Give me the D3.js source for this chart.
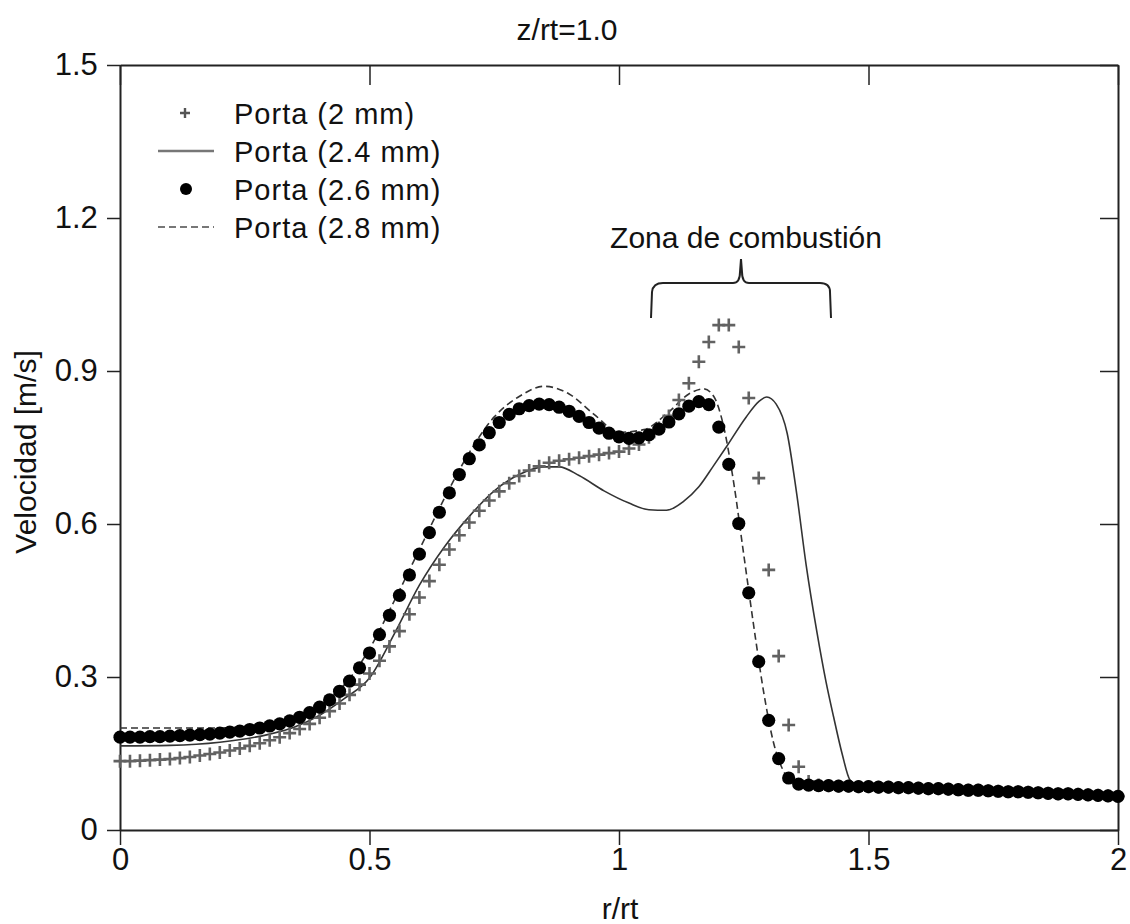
<!DOCTYPE html>
<html>
<head>
<meta charset="utf-8">
<script src="https://cdn.jsdelivr.net/npm/d3@7"></script>
<style>
  body { margin: 0; background: #fff; }
  text { font-family: "Liberation Sans", Arial, sans-serif; fill: #111; }
</style>
</head>
<body>
<svg id="chart" width="1130" height="924"></svg>
<script>
// radial positions shared by the marker series (step 0.02)
const rPos = d3.range(0, 101).map(i => +(i * 0.02).toFixed(2));

// Porta (2 mm) - crosses
const porta20 = [0.135, 0.135, 0.136, 0.137, 0.138, 0.139, 0.141, 0.143, 0.146, 0.149,
  0.152, 0.156, 0.160, 0.165, 0.170, 0.176, 0.182, 0.190, 0.198, 0.208,
  0.220, 0.233, 0.248, 0.265, 0.285, 0.307, 0.332, 0.360, 0.390, 0.423,
  0.456, 0.488, 0.520, 0.550, 0.578, 0.603, 0.626, 0.646, 0.664, 0.680,
  0.694, 0.705, 0.713, 0.720, 0.724, 0.727, 0.730, 0.733, 0.736, 0.739,
  0.742, 0.748, 0.756, 0.770, 0.788, 0.812, 0.843, 0.876, 0.918, 0.957,
  0.990, 0.990, 0.947, 0.847, 0.690, 0.510, 0.341, 0.206, 0.124, 0.095,
  0.088, 0.087, 0.086, 0.086, 0.085, 0.085, 0.084, 0.084, 0.083, 0.083,
  0.082, 0.081, 0.081, 0.080, 0.079, 0.078, 0.078, 0.077, 0.076, 0.075,
  0.075, 0.074, 0.073, 0.072, 0.071, 0.071, 0.070, 0.069, 0.068, 0.067, 0.066];

// Porta (2.6 mm) - filled dots
const porta26 = [0.182, 0.182, 0.182, 0.183, 0.183, 0.184, 0.185, 0.186, 0.187, 0.188,
  0.190, 0.192, 0.194, 0.197, 0.200, 0.204, 0.208, 0.214, 0.221, 0.230,
  0.241, 0.255, 0.272, 0.292, 0.318, 0.347, 0.383, 0.421, 0.460, 0.500,
  0.541, 0.583, 0.623, 0.661, 0.697, 0.728, 0.755, 0.779, 0.799, 0.815,
  0.826, 0.832, 0.835, 0.834, 0.829, 0.821, 0.811, 0.799, 0.788, 0.778,
  0.771, 0.768, 0.769, 0.775, 0.786, 0.800, 0.816, 0.831, 0.840, 0.834,
  0.790, 0.717, 0.601, 0.465, 0.330, 0.215, 0.140, 0.102, 0.090, 0.088,
  0.087, 0.087, 0.086, 0.086, 0.085, 0.085, 0.084, 0.084, 0.083, 0.083,
  0.082, 0.081, 0.081, 0.080, 0.079, 0.078, 0.078, 0.077, 0.076, 0.075,
  0.075, 0.074, 0.073, 0.072, 0.071, 0.071, 0.070, 0.069, 0.068, 0.067, 0.066];

// Porta (2.4 mm) - solid line
const r24 = [0, 0.1, 0.2, 0.3, 0.35, 0.4, 0.45, 0.5, 0.55, 0.6, 0.65, 0.7, 0.75, 0.8,
  0.85, 0.88, 0.92, 0.97, 1.02, 1.06, 1.095, 1.13, 1.16, 1.19, 1.215, 1.255, 1.28,
  1.296, 1.315, 1.337, 1.356, 1.375, 1.397, 1.415, 1.43, 1.447, 1.463, 1.48, 1.6, 1.8, 2.0];
const porta24 = [0.165, 0.166, 0.172, 0.188, 0.202, 0.225, 0.258, 0.298, 0.385, 0.48,
  0.555, 0.615, 0.665, 0.697, 0.712, 0.712, 0.695, 0.665, 0.641, 0.628, 0.627, 0.645,
  0.673, 0.715, 0.751, 0.81, 0.84, 0.849, 0.835, 0.778, 0.66, 0.52, 0.386, 0.29, 0.222,
  0.15, 0.098, 0.088, 0.082, 0.075, 0.066];

// Porta (2.8 mm) - dashed line
const r28 = [0, 0.1, 0.2, 0.3, 0.35, 0.4, 0.45, 0.5, 0.55, 0.6, 0.65, 0.7, 0.75, 0.8, 0.85,
  0.9, 0.95, 1.0, 1.05, 1.1, 1.14, 1.17, 1.19, 1.21, 1.23, 1.25, 1.27, 1.29, 1.31, 1.33,
  1.35, 1.4, 1.5, 1.6, 1.7, 1.8, 1.9, 2.0];
const porta28 = [0.20, 0.20, 0.20, 0.21, 0.22, 0.245, 0.285, 0.355, 0.45, 0.55, 0.65, 0.74,
  0.81, 0.85, 0.87, 0.855, 0.815, 0.78, 0.785, 0.82, 0.855, 0.865, 0.85, 0.79, 0.68, 0.54,
  0.40, 0.27, 0.17, 0.115, 0.095, 0.088, 0.085, 0.082, 0.078, 0.074, 0.07, 0.066];

const xTicks = [0, 0.5, 1, 1.5, 2];
const yTicks = [0, 0.3, 0.6, 0.9, 1.2, 1.5];
const legendLabels = ["Porta (2 mm)", "Porta (2.4 mm)", "Porta (2.6 mm)", "Porta (2.8 mm)"];

const svg = d3.select("#chart");
const plotL = 120, plotR = 1118, plotT = 65, plotB = 830;

const x = d3.scaleLinear().domain([0, 2]).range([plotL, plotR]);
const y = d3.scaleLinear().domain([0, 1.5]).range([plotB, plotT]);

const fmtX = d => d === 0 || d === 1 || d === 2 ? d3.format("d")(d) : d3.format(".1f")(d);
const fmtY = d => d === 0 ? "0" : d3.format(".1f")(d);

// axes
const gx = svg.append("g").attr("transform", `translate(0,${plotB})`)
  .call(d3.axisBottom(x).tickValues(xTicks).tickFormat(fmtX).tickSize(15).tickSizeOuter(0));
const gy = svg.append("g").attr("transform", `translate(${plotL},0)`)
  .call(d3.axisLeft(y).tickValues(yTicks).tickFormat(fmtY).tickSize(13).tickSizeOuter(0));
const gt = svg.append("g").attr("transform", `translate(0,${plotT})`)
  .call(d3.axisTop(x).tickValues(xTicks).tickFormat("").tickSize(-20).tickSizeOuter(0));
const gr = svg.append("g").attr("transform", `translate(${plotR},0)`)
  .call(d3.axisRight(y).tickValues(yTicks).tickFormat("").tickSize(-18).tickSizeOuter(0));

[gx, gy, gt, gr].forEach(g => {
  g.select(".domain").attr("stroke", "#222").attr("stroke-width", 2);
  g.selectAll(".tick line").attr("stroke", "#222").attr("stroke-width", 1.5);
});
gx.selectAll(".tick text").attr("font-size", 31).attr("fill", "#111");
gy.selectAll(".tick text").attr("font-size", 31).attr("dx", "-0.2em").attr("fill", "#111");

// titles
svg.append("text").attr("x", 567).attr("y", 40).attr("text-anchor", "middle")
  .attr("font-size", 30).text("z/rt=1.0");
svg.append("text").attr("x", 620).attr("y", 919).attr("text-anchor", "middle")
  .attr("font-size", 30).text("r/rt");
svg.append("text").attr("transform", "translate(36,452) rotate(-90)")
  .attr("text-anchor", "middle").attr("font-size", 30).text("Velocidad [m/s]");

const plot = svg.append("g");

// lines
const line = d3.line().x(d => x(d[0])).y(d => y(d[1])).curve(d3.curveMonotoneX);

plot.append("path").datum(d3.zip(r24, porta24)).attr("d", line)
  .attr("fill", "none").attr("stroke", "#333").attr("stroke-width", 1.6);

plot.append("path").datum(d3.zip(r28, porta28)).attr("d", line)
  .attr("fill", "none").attr("stroke", "#333").attr("stroke-width", 1.6)
  .attr("stroke-dasharray", "7,4");

// crosses
const cs = 6.5;
plot.append("g").selectAll("path").data(d3.zip(rPos, porta20)).join("path")
  .attr("d", d => `M${x(d[0]) - cs},${y(d[1])}h${2 * cs}M${x(d[0])},${y(d[1]) - cs}v${2 * cs}`)
  .attr("stroke", "#626262").attr("stroke-width", 2.6).attr("fill", "none");

// dots
plot.append("g").selectAll("circle").data(d3.zip(rPos, porta26)).join("circle")
  .attr("cx", d => x(d[0])).attr("cy", d => y(d[1])).attr("r", 6.6).attr("fill", "#000");

// legend
const leg = svg.append("g");
const rowY = [113, 151, 189, 227];
leg.append("path").attr("d", `M180,${rowY[0]}h10M185,${rowY[0] - 5}v10`)
  .attr("stroke", "#555").attr("stroke-width", 2.4);
leg.append("line").attr("x1", 158).attr("x2", 214).attr("y1", rowY[1]).attr("y2", rowY[1])
  .attr("stroke", "#777").attr("stroke-width", 2.5);
leg.append("circle").attr("cx", 186).attr("cy", rowY[2]).attr("r", 6).attr("fill", "#000");
leg.append("line").attr("x1", 158).attr("x2", 214).attr("y1", rowY[3]).attr("y2", rowY[3])
  .attr("stroke", "#777").attr("stroke-width", 2).attr("stroke-dasharray", "7,4");
leg.selectAll("text.lab").data(legendLabels).join("text").attr("class", "lab")
  .attr("x", 234).attr("y", (d, i) => rowY[i] + 11).attr("font-size", 29)
  .attr("letter-spacing", 1).text(d => d);

// combustion zone annotation
svg.append("text").attr("x", 746).attr("y", 248).attr("text-anchor", "middle")
  .attr("font-size", 30).text("Zona de combustión");
svg.append("path")
  .attr("d", "M651,318 L652,292 Q653,283 663,283 L733,283 Q740,283 740,272 L741,259 " +
    "M741,259 L742,272 Q742,283 749,283 L820,283 Q830,283 830,292 L831,318")
  .attr("fill", "none").attr("stroke", "#222").attr("stroke-width", 2);
</script>
</body>
</html>
